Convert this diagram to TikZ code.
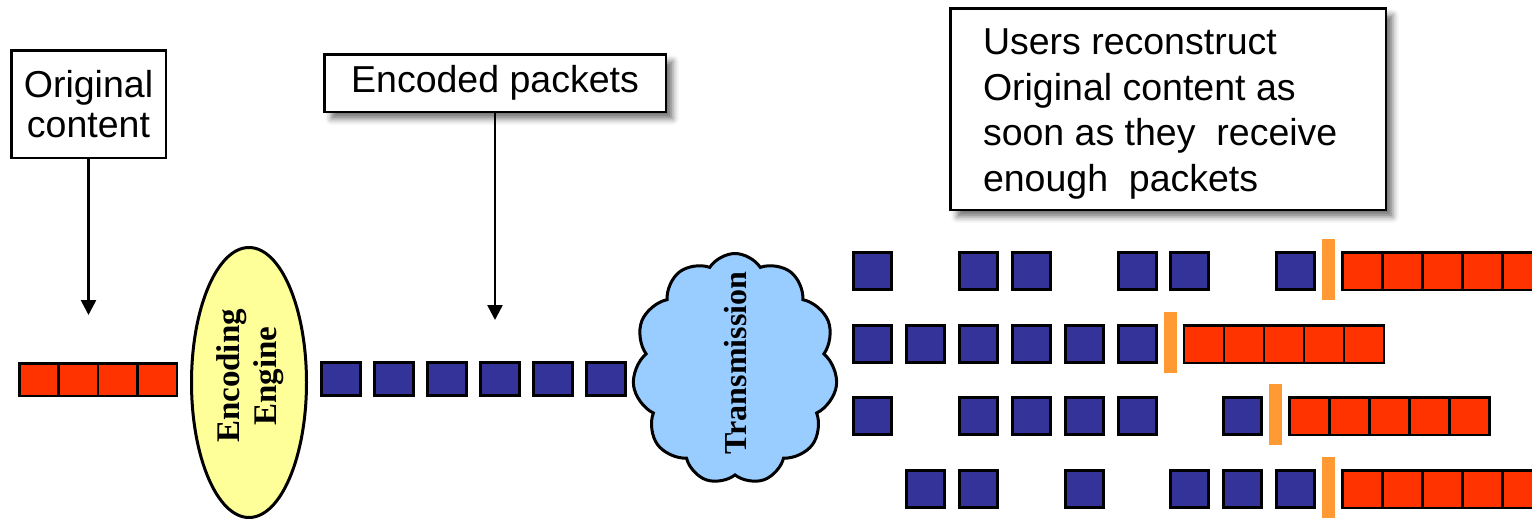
\documentclass[tikz,border=0pt]{standalone}
\usepackage{fontspec}
\setmainfont{Liberation Sans}
\newfontfamily\labelserif{Liberation Serif}
\usetikzlibrary{shapes.geometric, shapes.symbols, arrows.meta, shadows.blur}

\definecolor{pktblue}{HTML}{333399}
\definecolor{pktred}{HTML}{FF3300}
\definecolor{markorange}{HTML}{FF9933}
\definecolor{engineyellow}{HTML}{FFFF99}
\definecolor{netblue}{HTML}{99CCFF}

\tikzset{
  callout/.style={draw=black, line width=2.5pt, fill=white,
    font=\fontsize{37.5}{40}\selectfont},
  boxshade/.style={blur shadow={shadow xshift=7pt, shadow yshift=-7pt,
    shadow blur radius=6pt, shadow opacity=55}},
  pointer/.style={draw=black, line width=2.6pt,
    -{Triangle[length=15pt, width=15pt]}},
  bluepkt/.style={draw=black, line width=3pt, fill=pktblue,
    minimum width=38pt, minimum height=37pt},
  midpkt/.style={draw=black, line width=3pt, fill=pktblue,
    minimum width=39pt, minimum height=33pt},
  redpkt/.style={draw=black, line width=2.5pt, fill=pktred,
    minimum width=40pt, minimum height=37.5pt},
  srcpkt/.style={draw=black, line width=2.5pt, fill=pktred,
    minimum width=39.4pt, minimum height=32.5pt},
  donebar/.style={fill=markorange, minimum width=13pt, minimum height=61pt},
  rotlabel/.style={rotate=90, align=center,
    font=\labelserif\bfseries\fontsize{32}{37}\selectfont},
}

\begin{document}
\begin{tikzpicture}[x=1pt, y=-1pt, every node/.style={inner sep=0pt, outer sep=0pt}]
\useasboundingbox (0,0) rectangle (1532,520);
\clip (0,0) rectangle (1532,520);

% source content and its label
\node[callout, minimum width=154.5pt, minimum height=107.5pt, align=center]
  (orig) at (88.5,104) {Original\\content};
\coordinate (origtip) at (88.5,315);
\draw[pointer] (orig.south) -- (origtip);
\foreach \i in {0,...,3}
  \node[srcpkt] (src\i) at ({38.95+39.4*\i},379.5) {};

% encoder
\node[ellipse, draw=black, line width=3pt, fill=engineyellow,
  minimum width=115pt, minimum height=270pt] (engine) at (249,382.5) {};
\node[rotlabel, font=\labelserif\bfseries\fontsize{33}{37}\selectfont]
  (enginetext) at (250,376) {Encoding\\Engine};

% encoded packet stream
\node[callout, boxshade, minimum width=341.5pt, minimum height=57.5pt]
  (enc) at (495,83) {\raisebox{-2pt}{Encoded packets}};
\coordinate (enctip) at (495,320);
\draw[pointer] (enc.south) -- (enctip);
\foreach \i in {0,...,5}
  \node[midpkt] (mid\i) at ({341+53*\i},379) {};

% channel
\node[cloud, cloud puffs=11, cloud puff arc=115, cloud ignores aspect,
  draw=black, line width=3pt, fill=netblue,
  minimum width=205pt, minimum height=231pt] (net) at (735,369) {};
\node[rotlabel] (nettext) at (736,363) {Transmission};

% receivers
\node[callout, boxshade, minimum width=435.5pt, minimum height=201.5pt]
  (users) at (1168,109) {};
\node[anchor=north west, align=left, font=\fontsize{37.5}{45.5}\selectfont]
  (userstext) at (983,29)
  {Users reconstruct\\Original content as\\soon as they\ \ receive\\enough\ \ packets};

\foreach \r/\top/\slots/\last in
  {1/251/{0,2,3,5,6,8}/8, 2/324/{0,1,2,3,4,5}/5,
   3/396/{0,2,3,4,5,7}/7, 4/469/{1,2,4,6,7,8}/8} {
  \foreach \k in \slots
    \node[bluepkt] (rx\r-\k) at ({872.5+52.9*\k},{\top+20}) {};
  \node[donebar] (bar\r) at ({905.5+52.9*\last},{\top+18.5}) {};
  \foreach \i in {0,...,4}
    \node[redpkt] (out\r-\i) at ({939.25+52.9*\last+40*\i},{\top+20}) {};
}
\end{tikzpicture}
\end{document}
